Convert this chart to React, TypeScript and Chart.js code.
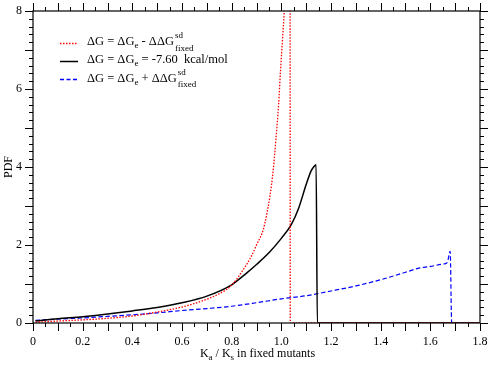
import React, { useEffect, useRef } from "react";
import { Chart, registerables } from "chart.js";

Chart.register(...registerables);

// ---- data ----
const redX = [0.01, 0.1, 0.2, 0.3, 0.4, 0.5, 0.6, 0.65, 0.7, 0.75, 0.8, 0.85, 0.88, 0.9, 0.927, 0.94, 0.954, 0.967, 0.978, 0.989, 0.997, 1.005, 1.012, 1.025, 1.035, 1.036, 1.8];
const redY = [0.02, 0.05, 0.08, 0.12, 0.18, 0.28, 0.41, 0.5, 0.61, 0.75, 0.97, 1.4, 1.72, 2.0, 2.39, 2.75, 3.25, 3.9, 4.7, 5.6, 6.5, 7.3, 8.0, 9.5, 11, 0, 0];

const blackX = [0.01, 0.1, 0.2, 0.3, 0.4, 0.5, 0.6, 0.7, 0.8, 0.86, 0.9, 0.95, 1.0, 1.04, 1.07, 1.1, 1.12, 1.13, 1.14, 1.145, 1.8];
const blackY = [0.05, 0.11, 0.16, 0.23, 0.31, 0.4, 0.52, 0.69, 0.98, 1.28, 1.5, 1.8, 2.17, 2.52, 2.95, 3.55, 3.9, 4.0, 4.06, 0, 0];

const blueX = [0.01, 0.1, 0.2, 0.3, 0.4, 0.5, 0.6, 0.7, 0.8, 0.9, 1.0, 1.1, 1.2, 1.3, 1.4, 1.5, 1.55, 1.6, 1.65, 1.668, 1.68, 1.686, 1.8];
const blueY = [0.07, 0.1, 0.13, 0.17, 0.21, 0.26, 0.32, 0.37, 0.43, 0.52, 0.62, 0.7, 0.82, 0.95, 1.11, 1.3, 1.4, 1.45, 1.51, 1.55, 1.84, 0, 0];

const xMin = 0, xMax = 1.8, xStep = 0.2;
const yMin = 0, yMax = 8, yStep = 2;

const xTitleParts = [
  { t: "K", k: "n" }, { t: "a", k: "sub" }, { t: " / K", k: "n" }, { t: "s", k: "sub" }, { t: " in fixed mutants", k: "n" },
];
const yTitle = "PDF";

const legendRows = [
  { color: "#ff0000", dash: [1.5, 1.5], width: 1.3, parts: [{ t: "ΔG = ΔG", k: "n" }, { t: "e", k: "sub" }, { t: " - ΔΔG", k: "n" }, { t: "sd", sub: "fixed", k: "ss" }] },
  { color: "#000000", dash: [], width: 1.5, parts: [{ t: "ΔG = ΔG", k: "n" }, { t: "e", k: "sub" }, { t: " = -7.60  kcal/mol", k: "n" }] },
  { color: "#0000ff", dash: [4, 2.5], width: 1.3, parts: [{ t: "ΔG = ΔG", k: "n" }, { t: "e", k: "sub" }, { t: " + ΔΔG", k: "n" }, { t: "sd", sub: "fixed", k: "ss" }] },
];

const FONT = "'Liberation Serif', 'Times New Roman', serif";

function toPts(xs: number[], ys: number[]) {
  return xs.map((x, i) => ({ x, y: ys[i] }));
}

function drawRich(ctx: CanvasRenderingContext2D, x: number, y: number, parts: any[], size: number, small: number) {
  let cx = x;
  for (const p of parts) {
    if (p.k === "n") {
      ctx.font = `${size}px ${FONT}`;
      ctx.fillText(p.t, cx, y);
      cx += ctx.measureText(p.t).width;
    } else if (p.k === "sub") {
      ctx.font = `${small}px ${FONT}`;
      ctx.fillText(p.t, cx, y + 3);
      cx += ctx.measureText(p.t).width;
    } else if (p.k === "ss") {
      ctx.font = `${small}px ${FONT}`;
      ctx.fillText(p.t, cx + 1, y - 7);
      ctx.fillText(p.sub, cx + 1, y + 5.5);
      cx += Math.max(ctx.measureText(p.t).width, ctx.measureText(p.sub).width) + 1;
    }
  }
}

const decorPlugin = {
  id: "decor",
  afterDraw(chart: any) {
    const ctx: CanvasRenderingContext2D = chart.ctx;
    const { left, right, top, bottom } = chart.chartArea;
    const xs = chart.scales.x;
    const ys = chart.scales.y;
    ctx.save();
    ctx.strokeStyle = "#000";
    ctx.lineWidth = 1.2;
    ctx.setLineDash([]);
    ctx.strokeRect(left, top, right - left, bottom - top);
    ctx.lineWidth = 1;
    // x ticks
    for (let i = 0; i <= 36; i++) {
      const v = i * 0.05;
      const px = Math.round(xs.getPixelForValue(v)) + 0.5;
      const len = i % 2 === 0 ? 8 : 4;
      ctx.beginPath();
      ctx.moveTo(px, bottom);
      ctx.lineTo(px, bottom + len);
      ctx.moveTo(px, top);
      ctx.lineTo(px, top - len);
      ctx.stroke();
    }
    // y ticks
    for (let i = 0; i <= 40; i++) {
      const v = i * 0.2;
      const py = Math.round(ys.getPixelForValue(v)) + 0.5;
      const len = i % 5 === 0 ? 8 : 4;
      ctx.beginPath();
      ctx.moveTo(left, py);
      ctx.lineTo(left - len, py);
      ctx.moveTo(right, py);
      ctx.lineTo(right + len, py);
      ctx.stroke();
    }
    // legend
    ctx.fillStyle = "#000";
    ctx.textBaseline = "alphabetic";
    ctx.textAlign = "left";
    const bases = [45, 63.3, 81.5];
    legendRows.forEach((r, i) => {
      const b = bases[i];
      const ly = Math.round(b - 2.5) + 0.5;
      ctx.save();
      ctx.strokeStyle = r.color;
      ctx.lineWidth = r.width;
      ctx.setLineDash(r.dash);
      ctx.beginPath();
      ctx.moveTo(60, ly);
      ctx.lineTo(78, ly);
      ctx.stroke();
      ctx.restore();
      drawRich(ctx, 87, b, r.parts, 12.5, 9);
    });
    // x title
    let w = 0;
    for (const p of xTitleParts) {
      ctx.font = `${p.k === "n" ? 12 : 9}px ${FONT}`;
      w += ctx.measureText(p.t).width;
    }
    const cx = (left + right) / 2 - w / 2 + 1;
    drawRich(ctx, cx, 356.5, xTitleParts, 12, 9);
    // y title
    ctx.save();
    ctx.translate(12, (top + bottom) / 2);
    ctx.rotate(-Math.PI / 2);
    ctx.font = `12px ${FONT}`;
    ctx.textAlign = "center";
    ctx.textBaseline = "alphabetic";
    ctx.fillText(yTitle, 0, 0);
    ctx.restore();
    ctx.restore();
  },
};

export default function App() {
  const ref = useRef<HTMLCanvasElement>(null);
  useEffect(() => {
    if (!ref.current) return;
    const tickFont = { family: FONT, size: 12 };
    const common = { pointRadius: 0, tension: 0, fill: false, cubicInterpolationMode: "monotone" };
    const chart = new Chart(ref.current, {
      type: "line",
      data: {
        datasets: [
          { ...common, data: toPts(redX, redY), borderColor: "#ff0000", borderWidth: 1.3, borderDash: [1.5, 1.5] },
          { ...common, data: toPts(blackX, blackY), borderColor: "#000000", borderWidth: 1.5 },
          { ...common, data: toPts(blueX, blueY), borderColor: "#0000ff", borderWidth: 1.2, borderDash: [4.5, 2.5] },
        ],
      },
      options: {
        animation: false,
        responsive: false,
        devicePixelRatio: 1,
        layout: { padding: { top: 11, right: 11, left: 0, bottom: 0 } },
        plugins: { legend: { display: false }, tooltip: { enabled: false } },
        scales: {
          x: {
            type: "linear",
            min: xMin,
            max: xMax,
            ticks: { stepSize: xStep, font: tickFont, color: "#000", padding: 12, maxRotation: 0, autoSkip: false },
            grid: { display: false, drawTicks: false },
            border: { display: false },
            afterFit: (s: any) => { s.height = 42; s.paddingLeft = 0; s.paddingRight = 0; },
          },
          y: {
            type: "linear",
            min: yMin,
            max: yMax,
            ticks: { stepSize: yStep, font: tickFont, color: "#000", padding: 11 },
            grid: { display: false, drawTicks: false },
            border: { display: false },
            afterFit: (s: any) => { s.width = 33; s.paddingTop = 0; s.paddingBottom = 0; },
          },
        },
      },
      plugins: [decorPlugin],
    } as any);
    return () => chart.destroy();
  }, []);
  return (
    <div style={{ position: "fixed", left: 0, top: 0, width: 491, height: 365, background: "#fff" }}>
      <canvas ref={ref} width={491} height={365} style={{ display: "block" }} />
    </div>
  );
}
